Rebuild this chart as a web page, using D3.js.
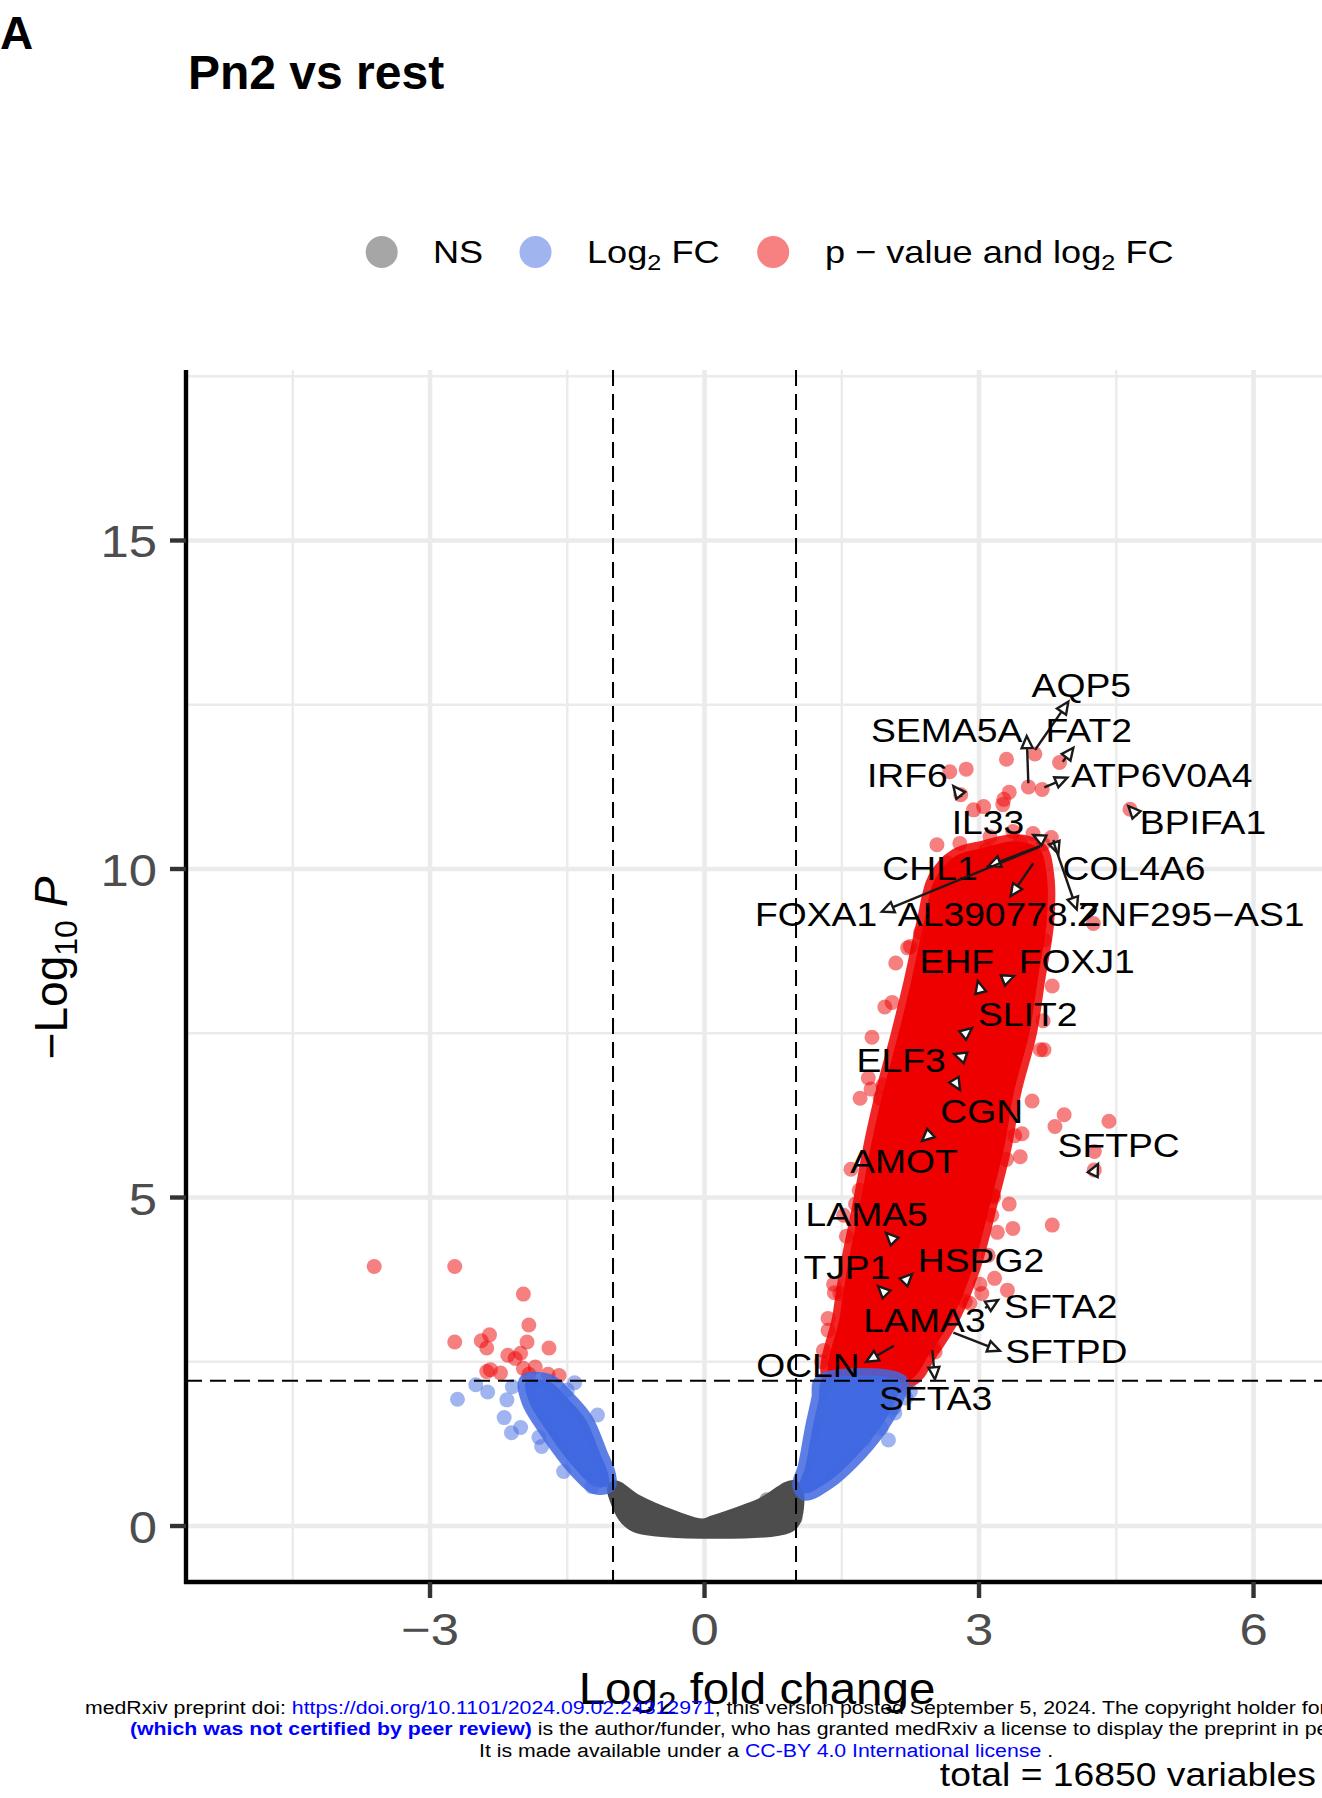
<!DOCTYPE html>
<html>
<head>
<meta charset="utf-8">
<script src="https://cdn.jsdelivr.net/npm/d3@7"></script>
<style>
  body { margin: 0; background: #fff; }
  svg { display: block; font-family: "Liberation Sans", Arial, sans-serif; }
</style>
</head>
<body>
<div id="chart"></div>
<script>
// Achsen
const xTicks = [-3, 0, 3, 6];
const xMinor = [-4.5, -1.5, 1.5, 4.5];
const yTicks = [0, 5, 10, 15];
const yMinor = [2.5, 7.5, 12.5, 17.5];
const fcCutoff = 1;
const pCutoff = 2.21;

// dichte Punktwolken (Umriss der Punktmittelpunkte: log2FC, -log10 P)
const nsRegion = [[-0.98,0.58],[-0.75,0.37],[-0.33,0.12],[-0.02,0.0],[0.10,0.05],[0.63,0.32],[0.98,0.58],
  [0.98,0.12],[0.90,0.0],[-0.72,0.0],[-0.85,0.12],[-0.94,0.35]];
const fcRegionLeft = [[-1.95,2.20],[-1.70,2.20],[-1.50,1.95],[-1.30,1.62],[-1.14,1.10],[-1.05,0.78],[-1.05,0.62],
  [-1.20,0.60],[-1.40,0.85],[-1.55,1.10],[-1.75,1.50],[-1.92,1.90]];
const fcRegionRight = [[1.28,2.20],[2.14,2.20],[2.10,1.95],[1.93,1.52],[1.62,1.0],[1.36,0.68],[1.10,0.50],
  [1.04,0.62],[1.10,0.9],[1.18,1.5],[1.25,1.95]];
const sigRegion = [[1.38,2.22],[1.48,3.2],[1.57,4.0],[1.70,4.9],[1.82,5.8],[1.95,6.6],[2.12,7.5],[2.26,8.3],
  [2.40,9.2],[2.52,9.85],[2.75,10.2],[3.05,10.32],[3.40,10.42],[3.66,10.3],[3.74,9.9],[3.74,9.2],[3.64,8.3],
  [3.55,7.5],[3.38,6.6],[3.28,5.8],[3.12,4.9],[2.95,4.0],[2.72,3.2],[2.45,2.6],[2.24,2.22]];

// einzelne Punkte am Rand
const nsPoints = [[0.68,0.40],[0.90,0.30],[0.99,0.12]];
const fcPoints = [[-2.70,1.93],[-2.50,2.15],[-2.37,2.04],[-2.19,1.65],[-2.16,1.92],[-2.10,2.12],[-2.11,1.42],
  [-2.01,1.50],[-1.81,1.35],[-1.78,1.21],[-1.54,0.83],[-1.42,2.18],[-1.50,2.07],[-1.23,0.60],[-1.17,1.69],
  [2.01,1.31],[1.74,1.31],[2.08,1.72],[1.93,1.49],[1.85,1.80],[2.07,1.80],[2.25,2.05],[2.20,1.95]];
const sigPoints = [[-3.61,3.95],[-2.73,3.95],[-1.98,3.53],[-1.92,3.06],[-2.73,2.80],[-2.35,2.91],[-2.44,2.82],
  [-2.38,2.71],[-1.94,2.80],[-1.70,2.71],[-2.01,2.63],[-2.15,2.60],[-2.07,2.55],[-2.34,2.38],[-2.23,2.33],
  [-1.98,2.40],[-1.85,2.42],[-1.71,2.31],[-1.59,2.29],[-1.92,2.31],[-2.38,2.35],
  [3.30,11.67],[3.61,11.75],[3.88,11.62],[2.68,11.48],[2.86,11.52],[2.80,11.13],[3.54,11.25],[3.69,11.21],
  [4.65,10.91],[3.33,11.17],[3.27,11.06],[3.26,10.98],[3.05,10.95],[2.94,10.90],[2.54,10.37],[2.79,10.39],
  [3.79,10.48],[3.70,10.38],[4.25,9.17],[3.45,10.40],[3.23,10.26],[3.08,10.29],[3.37,10.57],[3.59,10.54],
  [2.25,8.82],[2.36,9.03],[2.65,10.09],[2.94,10.14],[3.12,10.49],
  [3.93,6.26],[4.42,6.16],[3.83,6.08],[4.26,5.70],[4.26,5.42],[3.47,5.97],[3.39,5.94],[3.45,5.62],[3.30,5.58],
  [3.67,7.25],[3.71,7.25],[3.71,8.92],[3.16,5.01],[3.37,4.53],[3.80,4.58],[3.14,4.73],[1.97,7.90],[2.05,7.97],
  [1.83,7.44],[1.95,6.71],[1.92,6.51],[2.22,8.80],[2.09,8.57],[1.69,5.11],
  [3.17,3.77],[3.31,3.59],[3.03,3.54],[2.90,3.39],[2.85,3.42],[2.74,3.64],[2.50,2.73],[2.52,2.65],[2.17,2.42],
  [3.15,5.04],[1.48,3.54],[1.82,6.65],[1.65,4.90],[1.55,4.41],[1.42,3.55],[1.35,2.98],[1.28,2.50],
  [1.70,6.51],[1.79,6.82],[1.60,5.43],[1.52,4.73],[1.41,3.68],[1.35,3.16],[1.30,2.67],
  [3.58,6.47],[3.70,7.69],[3.80,8.22],[3.33,4.90],[3.20,4.47],[3.10,4.12],[3.01,3.68]];

// Gen-Beschriftungen
const geneNames = ["AQP5","SEMA5A","FAT2","IRF6","ATP6V0A4","BPIFA1","IL33","CHL1","COL4A6","FOXA1",
  "AL390778.2","ZNF295\u2212AS1","EHF","FOXJ1","SLIT2","ELF3","CGN","SFTPC","AMOT","LAMA5","HSPG2","TJP1",
  "SFTA2","LAMA3","SFTPD","OCLN","SFTA3"];
const labelPos = [[4.118,12.623],[2.647,11.938],[4.199,11.938],[2.216,11.244],[4.997,11.244],[5.448,10.533],
  [3.098,10.533],[2.464,9.833],[4.694,9.833],[1.219,9.132],[3.211,9.132],[5.317,9.132],[2.757,8.412],
  [4.068,8.412],[3.532,7.615],[2.149,6.915],[3.030,6.139],[4.526,5.621],[2.180,5.368],[1.772,4.566],
  [3.021,3.871],[1.556,3.755],[3.893,3.161],[2.404,2.957],[3.954,2.476],[1.130,2.272],[2.526,1.766]];
const arrowTail = [[3.612,11.811],[3.539,11.304],[3.915,11.633],[2.811,11.100],[3.714,11.244],[4.730,10.811],
  [3.685,10.452],[3.667,10.350],[3.812,10.441],[3.667,10.340],[3.593,10.087],[3.812,10.416],[3.017,8.128],
  [3.273,8.311],[2.814,7.458],[2.858,7.123],[2.727,6.788],[4.257,5.388],[2.486,5.997],[2.082,4.323],
  [2.191,3.729],[1.995,3.516],[3.066,3.318],null,[2.720,2.942],[2.071,2.744],[2.490,2.679]];
const arrowTip = [[3.976,12.546],[3.521,12.024],[4.031,11.846],[2.719,11.263],[3.965,11.390],[4.632,10.959],
  [3.593,10.518],[3.102,10.046],[3.867,10.228],[1.937,9.350],[3.346,9.589],[4.068,9.386],[2.986,8.295],
  [3.383,8.371],[2.923,7.580],[2.727,7.184],[2.792,6.636],[4.300,5.510],[2.377,5.860],[1.984,4.460],
  [2.268,3.836],[1.896,3.653],[3.208,3.440],null,[3.227,2.668],[1.767,2.501],[2.518,2.233]];

const legendLabels = ["NS", "Log2 FC", "p \u2212 value and log2 FC"];
const colors = { ns: "#4D4D4D", fc: "#4169E1", sig: "#EE0000" };

// ==============================

const W = 1322, H = 1798;
const panel = { left: 186, top: 370, bottom: 1582, right: 1340 };
const SX = 1.13;   // Text ist im Original horizontal gestreckt
const R = 7.5;

const x = d3.scaleLinear().domain([-5.667, 6.945]).range([panel.left, panel.right]);
const y = d3.scaleLinear().domain([-0.852, 17.595]).range([panel.bottom, panel.top]);

const svg = d3.select("#chart").append("svg").attr("width", W).attr("height", H);

function stretchedText(parent, px, py, size, opts = {}) {
  const g = parent.append("g").attr("transform", `translate(${px},${py}) scale(${opts.sx ?? SX},1)`);
  return g.append("text")
    .attr("font-size", size)
    .attr("text-anchor", opts.anchor || "start")
    .attr("font-weight", opts.weight || "normal")
    .attr("fill", opts.fill || "#000");
}

function withSub(text, base, sub, rest, size) {
  text.append("tspan").text(base);
  text.append("tspan").attr("font-size", size * 0.7).attr("dy", size * 0.22).text(sub);
  text.append("tspan").attr("dy", -size * 0.22).text(rest);
}

// Titel
svg.append("text").attr("x", 0).attr("y", 49).attr("font-size", 46).attr("font-weight", "bold").text("A");
svg.append("text").attr("x", 188).attr("y", 89).attr("font-size", 48).attr("font-weight", "bold").text("Pn2 vs rest");

// Legende
const legendX = [381.7, 535.5, 773.2];
const legendFill = ["#A6A6A6", "#A0B4F0", "#F78080"];
legendX.forEach((lx, i) => {
  svg.append("circle").attr("cx", lx).attr("cy", 252).attr("r", 16).attr("fill", legendFill[i]);
});
{
  const t0 = stretchedText(svg, 433, 263, 32);
  t0.text(legendLabels[0]);
  const t1 = stretchedText(svg, 587, 263, 32);
  withSub(t1, "Log", "2", " FC", 32);
  const t2 = stretchedText(svg, 825, 263, 32);
  withSub(t2, "p \u2212 value and log", "2", " FC", 32);
}

// Gitter
const grid = svg.append("g");
grid.selectAll(".vmin").data(xMinor).join("line")
  .attr("x1", d => x(d)).attr("x2", d => x(d)).attr("y1", panel.top).attr("y2", panel.bottom)
  .attr("stroke", "#EBEBEB").attr("stroke-width", 2.4);
grid.selectAll(".hmin").data(yMinor).join("line")
  .attr("y1", d => y(d)).attr("y2", d => y(d)).attr("x1", panel.left).attr("x2", W)
  .attr("stroke", "#EBEBEB").attr("stroke-width", 2.4);
grid.selectAll(".vmaj").data(xTicks).join("line")
  .attr("x1", d => x(d)).attr("x2", d => x(d)).attr("y1", panel.top).attr("y2", panel.bottom)
  .attr("stroke", "#EBEBEB").attr("stroke-width", 4.6);
grid.selectAll(".hmaj").data(yTicks).join("line")
  .attr("y1", d => y(d)).attr("y2", d => y(d)).attr("x1", panel.left).attr("x2", W)
  .attr("stroke", "#EBEBEB").attr("stroke-width", 4.6);

// Punkte
svg.append("clipPath").attr("id", "clip").append("rect")
  .attr("x", panel.left).attr("y", panel.top).attr("width", W - panel.left).attr("height", panel.bottom - panel.top);
const plot = svg.append("g").attr("clip-path", "url(#clip)");

const area = d3.line().x(d => x(d[0])).y(d => y(d[1])).curve(d3.curveCatmullRomClosed.alpha(0.5));

function drawRegion(pts, color, edgeOpacity) {
  plot.append("path").attr("d", area(pts))
    .attr("fill", color).attr("stroke", color).attr("stroke-opacity", edgeOpacity)
    .attr("stroke-width", 2 * R).attr("stroke-linejoin", "round");
}
function drawPoints(pts, color) {
  plot.append("g").selectAll("circle").data(pts).join("circle")
    .attr("cx", d => x(d[0])).attr("cy", d => y(d[1])).attr("r", R)
    .attr("fill", color).attr("fill-opacity", 0.5);
}

drawRegion(nsRegion, colors.ns, 1);
drawPoints(nsPoints, colors.ns);
drawRegion(sigRegion, colors.sig, 0.85);
drawPoints(sigPoints, colors.sig);
drawRegion(fcRegionLeft, colors.fc, 0.85);
drawRegion(fcRegionRight, colors.fc, 0.85);
drawPoints(fcPoints, colors.fc);

// Grenzlinien
plot.selectAll(".vcut").data([-fcCutoff, fcCutoff]).join("line")
  .attr("x1", d => x(d)).attr("x2", d => x(d)).attr("y1", panel.top).attr("y2", panel.bottom)
  .attr("stroke", "#000").attr("stroke-width", 2).attr("stroke-dasharray", "16,8");
plot.append("line")
  .attr("x1", panel.left).attr("x2", W).attr("y1", y(pCutoff)).attr("y2", y(pCutoff))
  .attr("stroke", "#000").attr("stroke-width", 2).attr("stroke-dasharray", "16,8");

// Pfeile + Labels
const ann = svg.append("g");
geneNames.forEach((name, i) => {
  const tail = arrowTail[i], tip = arrowTip[i];
  if (tail && tip) {
    const x0 = x(tail[0]), y0 = y(tail[1]), x1 = x(tip[0]), y1 = y(tip[1]);
    const len = Math.hypot(x1 - x0, y1 - y0);
    const ux = (x1 - x0) / len, uy = (y1 - y0) / len;
    const L = 12, hw = 5.5;
    const bx = x1 - ux * L, by = y1 - uy * L;
    if (len > L) {
      ann.append("line").attr("x1", x0).attr("y1", y0).attr("x2", bx).attr("y2", by)
        .attr("stroke", "#1A1A1A").attr("stroke-width", 2.4);
    }
    ann.append("path")
      .attr("d", `M${x1},${y1}L${bx - uy * hw},${by + ux * hw}L${bx + uy * hw},${by - ux * hw}Z`)
      .attr("fill", "#fff").attr("stroke", "#1A1A1A").attr("stroke-width", 2.4).attr("stroke-linejoin", "miter");
  }
  stretchedText(ann, x(labelPos[i][0]), y(labelPos[i][1]), 33, { anchor: "middle" }).text(name);
});

// Achsen
svg.append("line").attr("x1", panel.left).attr("x2", panel.left).attr("y1", panel.top).attr("y2", panel.bottom + 2)
  .attr("stroke", "#000").attr("stroke-width", 4.4);
svg.append("line").attr("x1", panel.left - 2).attr("x2", W).attr("y1", panel.bottom).attr("y2", panel.bottom)
  .attr("stroke", "#000").attr("stroke-width", 4.4);

svg.append("g").selectAll("line").data(yTicks).join("line")
  .attr("x1", panel.left - 16).attr("x2", panel.left).attr("y1", d => y(d)).attr("y2", d => y(d))
  .attr("stroke", "#333").attr("stroke-width", 4.4);
svg.append("g").selectAll("line").data(xTicks).join("line")
  .attr("y1", panel.bottom).attr("y2", panel.bottom + 16).attr("x1", d => x(d)).attr("x2", d => x(d))
  .attr("stroke", "#333").attr("stroke-width", 4.4);

yTicks.forEach(t => {
  stretchedText(svg, 157, y(t) + 17, 45, { anchor: "end", fill: "#4D4D4D" }).text(t);
});
xTicks.forEach(t => {
  stretchedText(svg, x(t), 1645, 45, { anchor: "middle", fill: "#4D4D4D" }).text(t < 0 ? "\u2212" + Math.abs(t) : t);
});

// Achsentitel
{
  const g = svg.append("g").attr("transform", "translate(67,968) rotate(-90)");
  const t = g.append("text").attr("font-size", 46).attr("text-anchor", "middle");
  t.append("tspan").text("\u2212Log");
  t.append("tspan").attr("font-size", 32).attr("dy", 10).text("10");
  t.append("tspan").attr("dy", -10).text(" ");
  t.append("tspan").attr("font-style", "italic").text("P");
}
{
  const t = stretchedText(svg, 757, 1704, 44, { anchor: "middle", sx: 1.08 });
  withSub(t, "Log", "2", " fold change", 44);
}

// medRxiv-Fußzeile
{
  const f1 = stretchedText(svg, 85, 1714, 19, { sx: 1.12 });
  f1.append("tspan").text("medRxiv preprint doi: ");
  f1.append("tspan").attr("fill", "#0000FF").text("https://doi.org/10.1101/2024.09.02.24312971");
  f1.append("tspan").text(", this version posted September 5, 2024. The copyright holder for this preprint");
  const f2 = stretchedText(svg, 130, 1735, 19, { sx: 1.12 });
  f2.append("tspan").attr("fill", "#0000FF").attr("font-weight", "bold").text("(which was not certified by peer review)");
  f2.append("tspan").text(" is the author/funder, who has granted medRxiv a license to display the preprint in perpetuity.");
  const f3 = stretchedText(svg, 479, 1757, 19, { sx: 1.12 });
  f3.append("tspan").text("It is made available under a ");
  f3.append("tspan").attr("fill", "#0000FF").text("CC-BY 4.0 International license");
  f3.append("tspan").text(" .");
}
stretchedText(svg, 1316, 1786, 33, { anchor: "end" }).text("total = 16850 variables");
</script>
</body>
</html>
